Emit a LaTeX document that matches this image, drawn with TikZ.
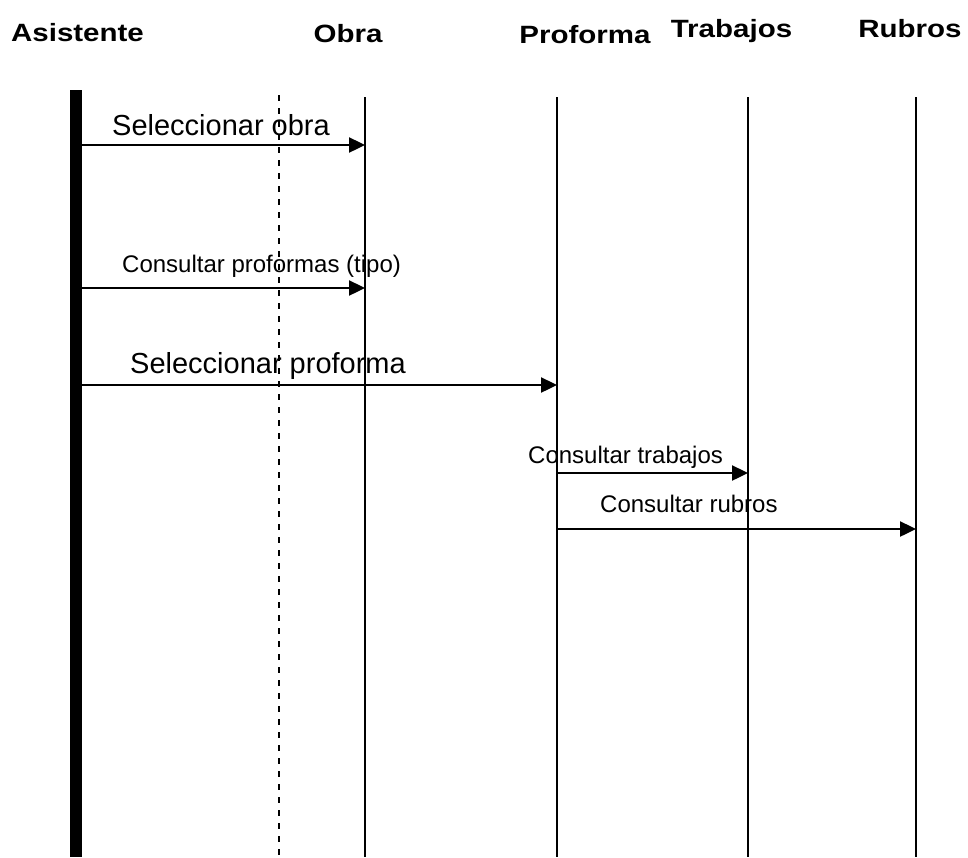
\documentclass[tikz,border=0pt]{standalone}
\usepackage{fontspec}
\setmainfont{Liberation Sans}
\usepackage{graphicx}
\usetikzlibrary{positioning, arrows.meta}

\newcommand{\headtext}[1]{\scalebox{1.18}[1]{\fontsize{25}{30}\selectfont\bfseries #1}}

\begin{document}
\begin{tikzpicture}[
  x=1pt, y=-1pt,
  head/.style={inner sep=0pt, anchor=base},
  lbig/.style={inner sep=0pt, anchor=base west, font=\fontsize{29}{34}\selectfont},
  lsmall/.style={inner sep=0pt, anchor=base west, font=\fontsize{24}{29}\selectfont},
  life/.style={line width=1.6pt},
  actor/.style={line width=12pt},
  dashline/.style={line width=1.8pt, dash pattern=on 6pt off 7pt},
  msg/.style={line width=2.4pt, -{Triangle[length=16pt, width=15pt]}}
]
\useasboundingbox (0,0) rectangle (968,857);

% cabeceras
\node[head] (asis) at (77.5,41) {\headtext{Asistente}};
\node[head] (obra) at (348,42) {\headtext{Obra}};
\node[head] (prof) at (585,43) {\headtext{Proforma}};
\node[head] (trab) at (731.5,37) {\headtext{Trabajos}};
\node[head] (rubr) at (910,37) {\headtext{Rubros}};

% lineas de vida
\coordinate (asis-top) at (76,90);   \coordinate (asis-bot) at (76,857);
\coordinate (dash-top) at (279,95);  \coordinate (dash-bot) at (279,857);
\coordinate (obra-top) at (365,97);  \coordinate (obra-bot) at (365,857);
\coordinate (prof-top) at (557,97);  \coordinate (prof-bot) at (557,857);
\coordinate (trab-top) at (748,97);  \coordinate (trab-bot) at (748,857);
\coordinate (rubr-top) at (916,97);  \coordinate (rubr-bot) at (916,857);

\draw[actor] (asis-top) -- (asis-bot);
\draw[dashline] (dash-top) -- (dash-bot);
\draw[life] (obra-top) -- (obra-bot);
\draw[life] (prof-top) -- (prof-bot);
\draw[life] (trab-top) -- (trab-bot);
\draw[life] (rubr-top) -- (rubr-bot);

% mensajes
\coordinate (m1a) at (82,145);  \coordinate (m1b) at (365,145);
\coordinate (m2a) at (82,288);  \coordinate (m2b) at (365,288);
\coordinate (m3a) at (82,385);  \coordinate (m3b) at (557,385);
\coordinate (m4a) at (557,473); \coordinate (m4b) at (748,473);
\coordinate (m5a) at (557,529); \coordinate (m5b) at (916,529);

\draw[msg] (m1a) -- (m1b);
\draw[msg] (m2a) -- (m2b);
\draw[msg] (m3a) -- (m3b);
\draw[msg] (m4a) -- (m4b);
\draw[msg] (m5a) -- (m5b);

\node[lbig] (l1) at (112,135) {Seleccionar obra};
\node[lsmall] (l2) at (122,272) {Consultar proformas (tipo)};
\node[lbig] (l3) at (130,373) {Seleccionar proforma};
\node[lsmall] (l4) at (528,463) {Consultar trabajos};
\node[lsmall] (l5) at (600,512) {Consultar rubros};
\end{tikzpicture}
\end{document}
